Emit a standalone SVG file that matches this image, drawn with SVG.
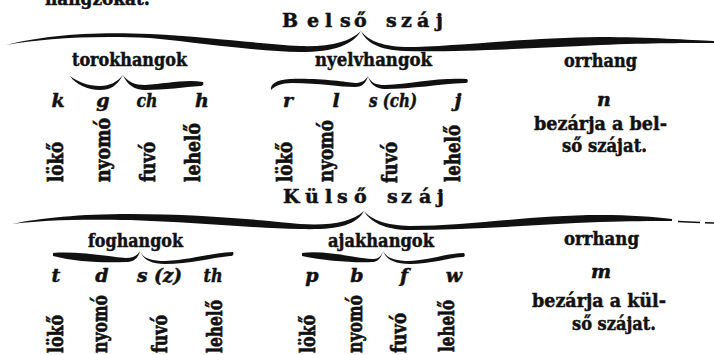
<svg xmlns="http://www.w3.org/2000/svg" width="714" height="355" viewBox="0 0 714 355">
<style>
.t{font-family:"DejaVu Serif","Liberation Serif",serif;font-weight:bold;fill:#111;stroke:#111;stroke-width:0.5}
.h{font-size:19px}
.ti{font-size:19px}
.i{font-style:italic;font-size:19px}
.v{font-size:21px;stroke-width:0.7}
.b{fill:#111}
.d{stroke:#111;stroke-width:1.6;fill:none}
</style>
<rect width="714" height="355" fill="#fff"/>
<g id="heading"><text class="t h" x="45" y="5" textLength="105" lengthAdjust="spacingAndGlyphs">hangzokat:</text></g>
<g id="belso-szaj"><text class="t ti" x="282 307 325 340 354 370 386 401 417 436" y="27">Belső száj</text></g>
<g id="torokhangok">
<text class="t h" x="72" y="66" textLength="115" lengthAdjust="spacingAndGlyphs">torokhangok</text>
<text class="t i" x="58" y="107" text-anchor="middle">k</text>
<text class="t i" x="103" y="107" text-anchor="middle">g</text>
<text class="t i" x="147" y="107" text-anchor="middle" textLength="21" lengthAdjust="spacingAndGlyphs">ch</text>
<text class="t i" x="202" y="107" text-anchor="middle">h</text>
<text class="t v" transform="translate(63,182) rotate(-90)" textLength="40" lengthAdjust="spacingAndGlyphs">lökő</text>
<text class="t v" transform="translate(110,182) rotate(-90)" textLength="64" lengthAdjust="spacingAndGlyphs">nyomó</text>
<text class="t v" transform="translate(155,182) rotate(-90)" textLength="40" lengthAdjust="spacingAndGlyphs">fuvó</text>
<text class="t v" transform="translate(200,182) rotate(-90)" textLength="59" lengthAdjust="spacingAndGlyphs">lehelő</text>
</g>
<g id="nyelvhangok">
<text class="t h" x="315" y="66" textLength="117" lengthAdjust="spacingAndGlyphs">nyelvhangok</text>
<text class="t i" x="288" y="107" text-anchor="middle">r</text>
<text class="t i" x="336" y="107" text-anchor="middle">l</text>
<text class="t i" x="369" y="107" textLength="48" lengthAdjust="spacingAndGlyphs">s (ch)</text>
<text class="t i" x="458" y="107" text-anchor="middle">j</text>
<text class="t v" transform="translate(292,182) rotate(-90)" textLength="40" lengthAdjust="spacingAndGlyphs">lökő</text>
<text class="t v" transform="translate(333,182) rotate(-90)" textLength="62" lengthAdjust="spacingAndGlyphs">nyomó</text>
<text class="t v" transform="translate(397,183) rotate(-90)" textLength="41" lengthAdjust="spacingAndGlyphs">fuvó</text>
<text class="t v" transform="translate(460,182) rotate(-90)" textLength="57" lengthAdjust="spacingAndGlyphs">lehelő</text>
</g>
<g id="orrhang-n">
<text class="t h" x="564" y="67" textLength="73" lengthAdjust="spacingAndGlyphs">orrhang</text>
<text class="t i" x="604" y="106" text-anchor="middle">n</text>
<text class="t h" x="534" y="130" textLength="133" lengthAdjust="spacingAndGlyphs">bezárja a bel-</text>
<text class="t h" x="562" y="152" textLength="85" lengthAdjust="spacingAndGlyphs">ső szájat.</text>
</g>
<g id="kulso-szaj"><text class="t ti" x="283 305 325 337 354 370 387 401 419 437" y="203">Külső száj</text></g>
<g id="foghangok">
<text class="t h" x="88" y="247" textLength="95" lengthAdjust="spacingAndGlyphs">foghangok</text>
<text class="t i" x="56" y="282" text-anchor="middle">t</text>
<text class="t i" x="102" y="282" text-anchor="middle">d</text>
<text class="t i" x="137" y="282" textLength="45" lengthAdjust="spacingAndGlyphs">s (z)</text>
<text class="t i" x="213" y="282" text-anchor="middle" textLength="19" lengthAdjust="spacingAndGlyphs">th</text>
<text class="t v" transform="translate(63,353) rotate(-90)" textLength="38" lengthAdjust="spacingAndGlyphs">lökő</text>
<text class="t v" transform="translate(107,353) rotate(-90)" textLength="58" lengthAdjust="spacingAndGlyphs">nyomó</text>
<text class="t v" transform="translate(167,353) rotate(-90)" textLength="38" lengthAdjust="spacingAndGlyphs">fuvó</text>
<text class="t v" transform="translate(222,353) rotate(-90)" textLength="53" lengthAdjust="spacingAndGlyphs">lehelő</text>
</g>
<g id="ajakhangok">
<text class="t h" x="328" y="247" textLength="106" lengthAdjust="spacingAndGlyphs">ajakhangok</text>
<text class="t i" x="312" y="282" text-anchor="middle">p</text>
<text class="t i" x="357" y="282" text-anchor="middle">b</text>
<text class="t i" x="404" y="282" text-anchor="middle">f</text>
<text class="t i" x="454" y="282" text-anchor="middle">w</text>
<text class="t v" transform="translate(315,353) rotate(-90)" textLength="38" lengthAdjust="spacingAndGlyphs">lökő</text>
<text class="t v" transform="translate(362,353) rotate(-90)" textLength="58" lengthAdjust="spacingAndGlyphs">nyomó</text>
<text class="t v" transform="translate(406,353) rotate(-90)" textLength="40" lengthAdjust="spacingAndGlyphs">fuvó</text>
<text class="t v" transform="translate(454,352) rotate(-90)" textLength="52" lengthAdjust="spacingAndGlyphs">lehelő</text>
</g>
<g id="orrhang-m">
<text class="t h" x="564" y="245" textLength="75" lengthAdjust="spacingAndGlyphs">orrhang</text>
<text class="t i" x="601" y="278" text-anchor="middle">m</text>
<text class="t h" x="532" y="307" textLength="134" lengthAdjust="spacingAndGlyphs">bezárja a kül-</text>
<text class="t h" x="572" y="330" textLength="84" lengthAdjust="spacingAndGlyphs">ső szájat.</text>
</g>
<g id="connectors">
<path class="b" d="M6,45 C40,36 90,31 150,34 C210,37 260,44 300,46 C330,47 350,42 361,31 C352,45 335,52 300,52 C255,51 210,44 150,38 C90,35 40,39 6,45 Z"/>
<path class="b" d="M361,31 C368,40 380,46 405,47 C450,47 520,38 600,37 C650,37 690,40 714,41 L714,43 C690,43 650,43 600,45 C520,49 455,52 405,51 C378,50 366,42 361,31 Z"/>
<path class="b" d="M12,224 C40,218 80,214 130,214 C200,214 260,220 300,224 C330,226 352,222 364,211 C356,226 335,230 300,229 C250,228 190,222 130,220 C80,219 40,220 12,224 Z"/>
<path class="b" d="M364,211 C372,220 385,225 410,226 C470,226 530,215 600,215 C630,215 655,217 672,219 L672,221 C650,221 630,221 600,222 C530,225 470,230 410,230 C385,230 370,222 364,211 Z"/>
<path class="d" d="M678,221.5 L700,222.5 M705,222.7 L714,223"/>
<path class="b" d="M70,76 C78,82 88,86 100,86 C110,86 117,82 123,75 C117,86 110,90 100,90 C88,90 75,84 70,76 Z"/>
<path class="b" d="M123,75 C128,82 135,85 145,85 C165,84 185,79 203,82 C204,84 203,86 200,86 C185,87 165,90 145,90 C135,90 127,85 123,75 Z"/>
<path class="b" d="M271,90 C270,84 276,80 290,79 C320,78 345,82 355,83 C361,83 365,81 368,76 C366,84 361,87 355,87 C340,87 320,83 292,83 C281,83 275,86 271,90 Z"/>
<path class="b" d="M368,76 C371,83 376,85 385,85 C410,84 440,77 467,79 C469,82 467,83 465,83 C440,84 412,89 385,89 C376,89 370,84 368,76 Z"/>
<path class="b" d="M53,253 C75,251 105,256 126,258 C133,258 137,256 140,251 C138,259 133,262 126,262 C105,263 75,262 53,256 Z"/>
<path class="b" d="M140,251 C143,258 150,261 165,261 C190,260 210,253 233,252 C234,255 233,256 230,256 C210,258 190,264 165,264 C150,264 143,259 140,251 Z"/>
<path class="b" d="M302,253 C325,250 355,258 372,259 C378,259 381,257 383,251 C381,259 377,262 372,262 C355,263 325,261 302,256 Z"/>
<path class="b" d="M383,251 C387,258 394,261 410,261 C430,260 448,253 464,253 C466,256 464,257 462,257 C448,258 430,264 410,264 C394,264 386,259 383,251 Z"/>
</g>
</svg>
